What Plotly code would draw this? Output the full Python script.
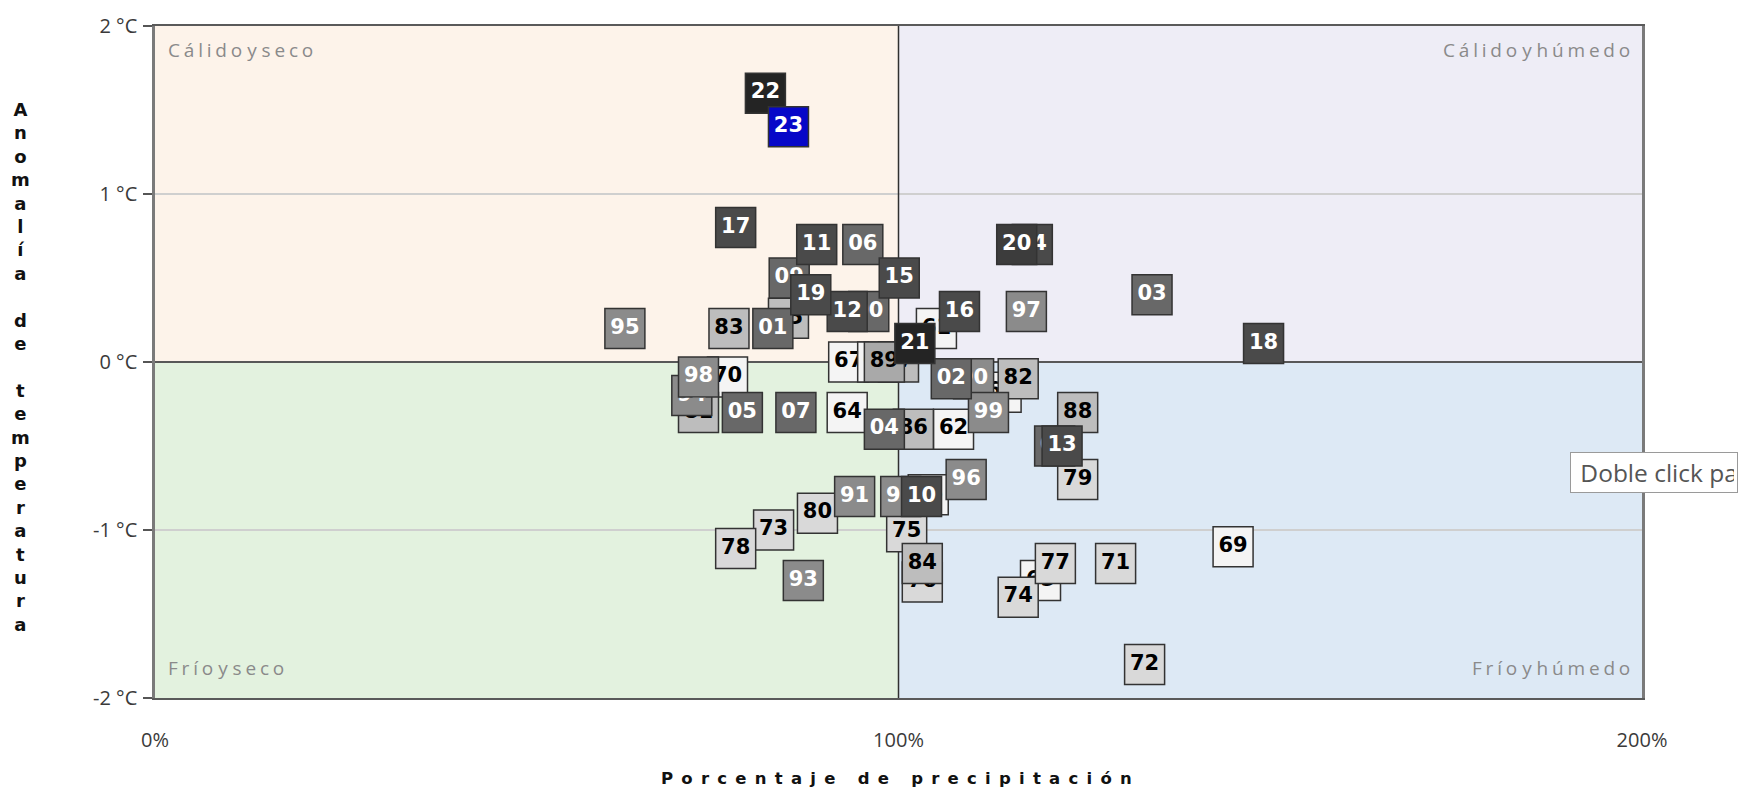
import plotly.graph_objects as go

# ---------------- data ----------------
years = [1961, 1962, 1963, 1964, 1965, 1966, 1967, 1968, 1969, 1970,
         1971, 1972, 1973, 1974, 1975, 1976, 1977, 1978, 1979, 1980,
         1981, 1982, 1983, 1984, 1985, 1986, 1987, 1988, 1989, 1990,
         1991, 1992, 1993, 1994, 1995, 1996, 1997, 1998, 1999, 2000,
         2001, 2002, 2003, 2004, 2005, 2006, 2007, 2008, 2009, 2010,
         2011, 2012, 2013, 2014, 2015, 2016, 2017, 2018, 2019, 2020,
         2021, 2022, 2023]

precip_pct = [105.1, 107.4, 113.8, 93.1, 119.1, 104.0, 93.3, 97.2, 145.0, 77.0,
              129.2, 133.1, 83.2, 116.1, 101.1, 103.2, 121.1, 78.1, 124.1, 89.1,
              73.1, 116.1, 77.2, 103.2, 85.2, 102.0, 100.0, 124.1, 98.1, 110.1,
              94.1, 100.3, 87.2, 72.2, 63.2, 109.1, 117.2, 73.1, 112.1, 96.0,
              83.1, 107.1, 134.1, 98.1, 79.0, 95.2, 86.2, 121.0, 85.3, 103.1,
              89.0, 93.1, 122.0, 118.0, 100.1, 108.2, 78.1, 149.1, 88.2, 115.9,
              102.2, 82.1, 85.2]

temp_anom = [0.20, -0.40, -0.18, -0.30, -1.30, -0.79, 0.00, 0.00, -1.10, -0.09,
             -1.20, -1.80, -1.00, -1.40, -1.01, -1.31, -1.20, -1.11, -0.70, -0.90,
             -0.30, -0.10, 0.20, -1.20, 0.26, -0.40, 0.00, -0.30, 0.00, -0.10,
             -0.80, -0.80, -1.30, -0.20, 0.20, -0.70, 0.30, -0.09, -0.30, 0.30,
             0.20, -0.10, 0.40, -0.40, -0.30, 0.70, -0.30, -0.50, 0.50, -0.80,
             0.70, 0.30, -0.50, 0.70, 0.50, 0.30, 0.80, 0.11, 0.40, 0.70,
             0.11, 1.60, 1.40]

y_tick_vals = [-2, -1, 0, 1, 2]
y_tick_text = ["-2 °C", "-1 °C", "0 °C", "1 °C", "2 °C"]
x_tick_vals = [0, 100, 200]
x_tick_text = ["0%", "100%", "200%"]

quadrant_names = ["Cálido y seco", "Cálido y húmedo", "Frío y seco", "Frío y húmedo"]


# ---------------- styling helpers ----------------
def box_fill(y):
    if y == 2023:
        return "#0707c8"
    if y >= 2021:
        return "#242424"
    if y == 2020:
        return "#3c3c3c"
    if y >= 2010:
        return "#4a4a4a"
    if y >= 2000:
        return "#686868"
    if y >= 1990:
        return "#8b8b8b"
    if y == 1989:
        return "#a9a9a9"
    if y >= 1981:
        return "#bdbdbd"
    if y >= 1971:
        return "#d9d9d9"
    return "#f4f4f4"


def text_col(y):
    return "#000000" if y < 1990 else "#ffffff"


def spaced(s):
    # extra tracking between letters, as in the original labels
    return " ".join("\u200a\u200a".join(w) for w in s.split(" "))


fig = go.Figure()

# quadrant backgrounds
fig.add_shape(type="rect", x0=0, x1=100, y0=0, y1=2, fillcolor="#fdf3ea", line_width=0, layer="below")
fig.add_shape(type="rect", x0=100, x1=200, y0=0, y1=2, fillcolor="#eeedf6", line_width=0, layer="below")
fig.add_shape(type="rect", x0=0, x1=100, y0=-2, y1=0, fillcolor="#e3f2df", line_width=0, layer="below")
fig.add_shape(type="rect", x0=100, x1=200, y0=-2, y1=0, fillcolor="#dde9f5", line_width=0, layer="below")

# center lines
fig.add_shape(type="line", x0=0, x1=200, y0=0, y1=0, line=dict(color="#303030", width=1.5), layer="between")
fig.add_shape(type="line", x0=100, x1=100, y0=-2, y1=2, line=dict(color="#303030", width=1.5), layer="between")

# one trace per year so that each label stays with its own box
for yr, px, tv in zip(years, precip_pct, temp_anom):
    fig.add_trace(go.Scatter(
        x=[px], y=[tv], mode="markers+text",
        text=[str(yr)[-2:]], textposition="middle center",
        marker=dict(symbol="square", size=40, color=box_fill(yr),
                    line=dict(color="#333333", width=1.5)),
        textfont=dict(family="DejaVu Sans", size=21, color=text_col(yr), weight="bold"),
        showlegend=False, hoverinfo="skip", cliponaxis=False,
    ))

tick_font = dict(family="Open Sans", size=20, color="#3a3a3a")

fig.update_xaxes(range=[0, 200], tickvals=x_tick_vals, ticktext=x_tick_text,
                 showgrid=False, zeroline=False, showline=True, mirror=True,
                 linecolor="#5a5a5a", linewidth=2, ticks="", tickfont=tick_font,
                 ticklabelstandoff=23)
fig.update_yaxes(range=[-2, 2], tickvals=y_tick_vals, ticktext=y_tick_text,
                 showgrid=True, gridcolor="#cfcfcf", gridwidth=1.5, zeroline=False,
                 showline=True, mirror=True, linecolor="#7a7a7a", linewidth=2.5,
                 ticks="outside", ticklen=9, tickcolor="#555555", tickwidth=1.5,
                 tickfont=tick_font, ticklabelstandoff=2)

corner_font = dict(family="Open Sans", size=19, color="#8a8a8a")
annos = [
    dict(text=spaced(quadrant_names[0]), x=0, y=1, xanchor="left", yanchor="top", xshift=11, yshift=-9),
    dict(text=spaced(quadrant_names[1]), x=1, y=1, xanchor="right", yanchor="top", xshift=-10, yshift=-9),
    dict(text=spaced(quadrant_names[2]), x=0, y=0, xanchor="left", yanchor="bottom", xshift=11, yshift=15),
    dict(text=spaced(quadrant_names[3]), x=1, y=0, xanchor="right", yanchor="bottom", xshift=-10, yshift=15),
]
for a in annos:
    fig.add_annotation(xref="paper", yref="paper", showarrow=False, font=corner_font, **a)

# vertical stacked y-axis title
ytitle = "Anomalía de temperatura"
ylines = ["\u00a0" if ch == " " else ch for ch in ytitle]
fig.add_annotation(xref="paper", yref="paper", x=0, y=0.5, xshift=-135, yshift=-5,
                   xanchor="center", yanchor="middle", showarrow=False,
                   text="<br>".join(ylines), align="center",
                   font=dict(family="DejaVu Sans", size=18, color="#111111", weight="bold"))

# letter-spaced x-axis title
xtitle = "Porcentaje de precipitación"
xt = "\u2002".join(["\u00a0" if ch == " " else ch for ch in xtitle])
fig.add_annotation(xref="paper", yref="paper", x=0.4985, y=0, yshift=-80,
                   xanchor="center", yanchor="middle", showarrow=False, text=xt,
                   font=dict(family="DejaVu Sans", size=16.5, color="#111111", weight="bold"))

# tooltip remnant (clipped by its fixed width)
fig.add_annotation(xref="paper", yref="paper", x=1, y=0.5, xshift=-72, yshift=-110,
                   xanchor="left", yanchor="middle", showarrow=False,
                   text="\u00a0Doble click para ampliar", width=160, align="left",
                   bgcolor="#ffffff", bordercolor="#9a9a9a",
                   borderwidth=1, borderpad=3,
                   font=dict(family="Open Sans", size=24.5, color="#555555"))

fig.update_layout(width=1758, height=795,
                  margin=dict(l=155, r=116, t=22, b=97),
                  paper_bgcolor="#ffffff", plot_bgcolor="#ffffff",
                  showlegend=False)

fig.write_html("out.html", config={"displayModeBar": False},
               post_script="document.body.style.margin='0';document.body.style.overflow='hidden';")
